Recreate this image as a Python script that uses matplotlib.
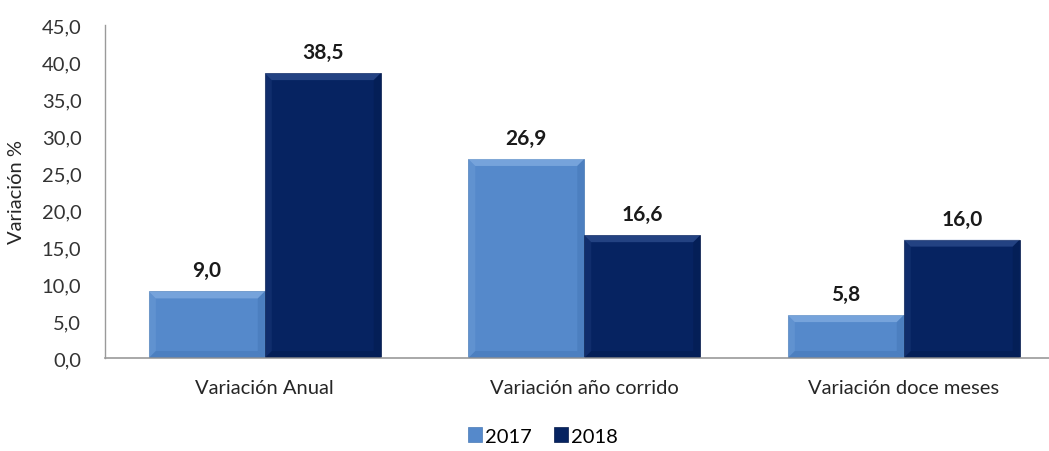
import matplotlib
matplotlib.use("Agg")
import matplotlib.pyplot as plt
from matplotlib.patches import Polygon
import numpy as np

categories = ["Variación Anual", "Variación año corrido", "Variación doce meses"]
series_names = ["2017", "2018"]
values_2017 = [9.0, 26.9, 5.8]
values_2018 = [38.5, 16.6, 16.0]
yticks = [0, 5, 10, 15, 20, 25, 30, 35, 40, 45]

plt.rcParams['font.family'] = ['Lato', 'DejaVu Sans']

fig = plt.figure(figsize=(10.49, 4.52), dpi=100)
ax = fig.add_axes([105/1049, 1-359/452, 1-105/1049, (359-26)/452])

x = np.arange(len(categories))
w = 0.363
c17 = "#5589cb"
c18 = "#062361"

def bevel(ax, bars, light, dark):
    for b in bars:
        x0, y0 = b.get_x(), b.get_y()
        bw, bh = b.get_width(), b.get_height()
        px_x = bw / 116.0
        px_y = 45.0 / 333.0
        dx, dy = 7 * px_x, 7 * px_y
        dy = min(dy, bh / 2)
        top = Polygon([(x0, y0 + bh), (x0 + bw, y0 + bh), (x0 + bw - dx, y0 + bh - dy), (x0 + dx, y0 + bh - dy)],
                      closed=True, facecolor=light, edgecolor='none', alpha=0.35, zorder=3)
        bottom = Polygon([(x0, y0), (x0 + bw, y0), (x0 + bw - dx, y0 + dy), (x0 + dx, y0 + dy)],
                         closed=True, facecolor=dark, edgecolor='none', alpha=0.2, zorder=3)
        left = Polygon([(x0, y0), (x0, y0 + bh), (x0 + dx, y0 + bh - dy), (x0 + dx, y0 + dy)],
                       closed=True, facecolor=light, edgecolor='none', alpha=0.12, zorder=3)
        right = Polygon([(x0 + bw, y0), (x0 + bw, y0 + bh), (x0 + bw - dx, y0 + bh - dy), (x0 + bw - dx, y0 + dy)],
                        closed=True, facecolor=dark, edgecolor='none', alpha=0.2, zorder=3)
        for p in (top, bottom, left, right):
            ax.add_patch(p)

b1 = ax.bar(x - w/2, values_2017, w, color=c17, edgecolor="#4a7ab6", linewidth=0.5, zorder=2, label=series_names[0])
b2 = ax.bar(x + w/2, values_2018, w, color=c18, edgecolor="#041a4a", linewidth=0.5, zorder=2, label=series_names[1])
bevel(ax, b1, "#b5d5fa", "#2a5a96")
bevel(ax, b2, "#5a7cc0", "#000f33")

for bars, vals in ((b1, values_2017), (b2, values_2018)):
    for b, v in zip(bars, vals):
        ax.annotate(f"{v:.1f}".replace(".", ","), (b.get_x() + b.get_width()/2, v),
                    xytext=(0, 8), textcoords="offset points", ha="center", va="bottom",
                    fontsize=15, fontweight="bold", color="#1a1a1a")

ax.set_xlim(-0.5, -0.5 + (1049-105)/319.5)
ax.set_ylim(0, 45)
ax.set_yticks(yticks)
ax.set_yticklabels([f"{t:.1f}".replace(".", ",") for t in yticks], fontsize=14.5, color="#333333")
ax.set_xticks(x)
ax.set_xticklabels(categories, fontsize=14.5, color="#262626")
ax.tick_params(axis='y', length=0, pad=17)
ax.tick_params(axis='x', length=0, pad=15)
for s in ("top", "right"):
    ax.spines[s].set_visible(False)
ax.spines["left"].set_color("#9a9a9a")
ax.spines["bottom"].set_color("#9a9a9a")
ax.spines["left"].set_linewidth(1.0)
ax.spines["bottom"].set_linewidth(1.2)

fig.text(17/1049, 1-192/452, "Variación %", rotation=90, ha="center", va="center", fontsize=14.5, color="#262626")

leg = fig.legend(handles=[b1, b2], labels=series_names, loc="center", bbox_to_anchor=(543/1049, 1-437/452),
                 ncol=2, frameon=False, fontsize=14.5, handlelength=0.7, handleheight=0.7,
                 handletextpad=0.15, columnspacing=1.1)

fig.savefig("out.png", dpi=100)
